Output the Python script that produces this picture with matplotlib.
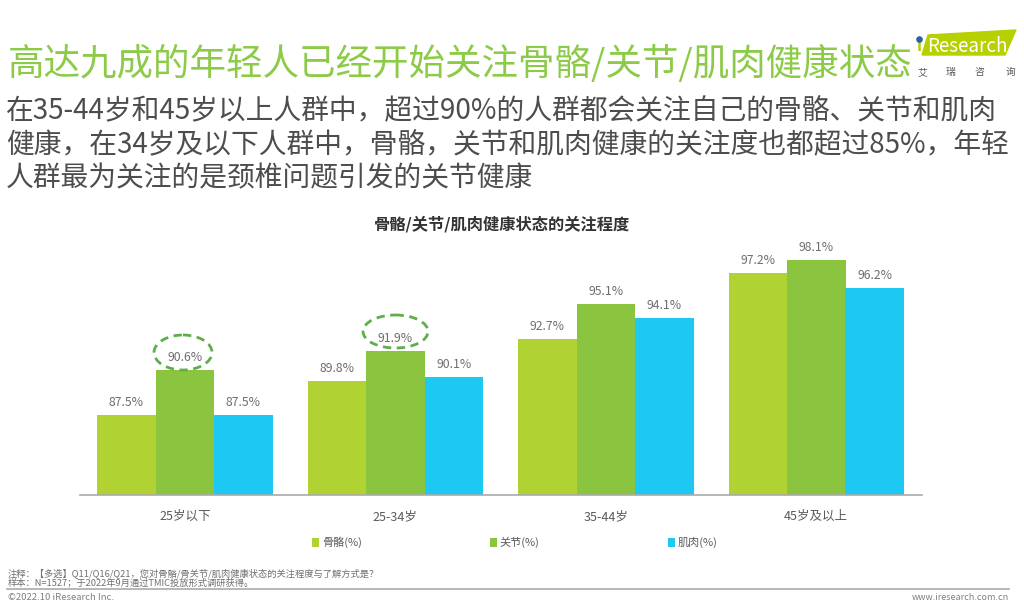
import matplotlib
matplotlib.use("Agg")
import numpy as np
import matplotlib.pyplot as plt
from matplotlib.patches import Ellipse, Polygon

plt.rcParams['font.family'] = ['Noto Sans CJK SC', 'DejaVu Sans']

W, H = 1024, 607

ages = ["25岁以下", "25-34岁", "35-44岁", "45岁及以上"]
bone = [87.5, 89.8, 92.7, 97.2]
joint = [90.6, 91.9, 95.1, 98.1]
muscle = [87.5, 90.1, 94.1, 96.2]
series_names = ["骨骼(%)", "关节(%)", "肌肉(%)"]

title = "高达九成的年轻人已经开始关注骨骼/关节/肌肉健康状态"
subtitle = ["在35-44岁和45岁以上人群中，超过90%的人群都会关注自己的骨骼、关节和肌肉",
            "健康，在34岁及以下人群中，骨骼，关节和肌肉健康的关注度也都超过85%，年轻",
            "人群最为关注的是颈椎问题引发的关节健康"]
chart_title = "骨骼/关节/肌肉健康状态的关注程度"
notes = ["注释：【多选】Q11/Q16/Q21，您对骨骼/骨关节/肌肉健康状态的关注程度与了解方式是？",
         "样本：N=1527；于2022年9月通过TMIC投放形式调研获得。"]

colors = ["#b0d232", "#8bc43f", "#1dc8f3"]
text_grey = "#6e6e6e"

fig = plt.figure(figsize=(W / 100, H / 100), dpi=100)

# chart
scale = 14.65  # px per percentage point
ax = fig.add_axes([79.5 / W, 1 - 495 / H, 842 / W, 290 / H])
x = np.arange(len(ages))
bw = 58.5 / 210.5
for i, vals in enumerate([bone, joint, muscle]):
    bars = ax.bar(x + (i - 1) * bw, vals, bw, color=colors[i], label=series_names[i])
    for b, v in zip(bars, vals):
        ax.text(b.get_x() + bw / 2, v + 0.4, f"{v}%", ha="center", va="bottom",
                fontsize=8.8, color=text_grey)
ax.set_xlim(-0.5, 3.5)
ymin = 87.5 - 80 / scale
ax.set_ylim(ymin, ymin + 290 / scale)
ax.set_yticks([])
ax.set_xticks(x)
ax.set_xticklabels(ages, fontsize=9, color="#5a5a5a")
ax.tick_params(axis="x", length=0, pad=11)
for s in ["top", "left", "right"]:
    ax.spines[s].set_visible(False)
ax.spines["bottom"].set_color("#aaaaaa")
ax.spines["bottom"].set_linewidth(1.2)
ax.patch.set_alpha(0)

ax.legend(loc="upper left", bbox_to_anchor=(0.2645, -0.11), ncol=3, frameon=False, fontsize=8,
          labelcolor="#5a5a5a", handlelength=0.65, handleheight=0.8, handletextpad=0.25,
          columnspacing=11.5)

# overlay in pixel coords, y pointing down
bg = fig.add_axes([0, 0, 1, 1])
bg.set_xlim(0, W)
bg.set_ylim(H, 0)
bg.axis("off")
bg.set_zorder(5)

# header text
bg.text(7.5, 64, title, fontsize=26.3, color="#8ccb48", va="center", ha="left")
for txt, yy in zip(subtitle, [110, 144, 178]):
    bg.text(6, yy, txt, fontsize=20, color="#4d4d4d", va="center", ha="left")
bg.text(502, 224, chart_title, fontsize=11.7, color="#333333", va="center", ha="center", weight="bold")

# dashed highlights
for cx, cy, w, h in [(183, 352.5, 58, 35), (395.5, 331.5, 65, 33)]:
    bg.add_patch(Ellipse((cx, cy), w, h, fill=False, ec="#5fae4c", lw=2, ls=(0, (3, 2))))

# logo
bg.add_patch(Polygon([[928, 35], [1016, 30], [1005, 55], [922, 55]], color="#b7d000"))
bg.text(967.5, 47, "Research", fontsize=13.5, color="white", va="center", ha="center")
bg.text(919.5, 46, "i", fontsize=12, color="#b7d000", va="center", ha="center", weight="bold", zorder=3)
bg.scatter([918.5], [38.5], s=14, color="#2a62a8", zorder=4)
for xx, c in zip([922, 950, 979, 1010], "艾瑞咨询"):
    bg.text(xx, 72, c, fontsize=7, color="#555555", va="center", ha="center")

# footer
bg.text(8, 573, notes[0], fontsize=6.7, color="#707070", va="center")
bg.text(8, 583, notes[1], fontsize=6.7, color="#707070", va="center")
bg.plot([7, 1009], [588.5, 588.5], color="#aaaaaa", lw=1.2)
bg.text(8, 597.5, "©2022.10 iResearch Inc.", fontsize=6.8, color="#808080", va="center")
bg.text(1009, 597.5, "www.iresearch.com.cn", fontsize=6.5, color="#808080", va="center", ha="right")

fig.savefig("out.png", dpi=100)
